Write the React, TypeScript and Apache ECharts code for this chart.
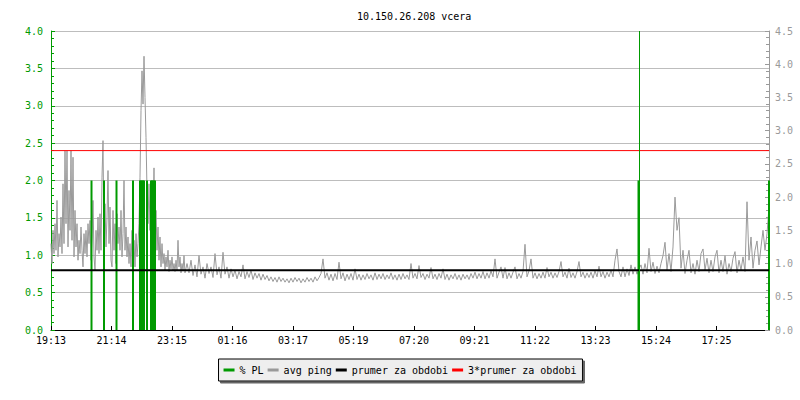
import React, { useEffect, useRef } from "react";
import * as echarts from "echarts";

const TITLE = "10.150.26.208 vcera";
const X_END = 1436;
const TICK_INTERVAL = 121;
const TICK_LABELS = ["19:13", "21:14", "23:15", "01:16", "03:17", "05:19", "07:20", "09:21", "11:22", "13:23", "15:24", "17:25"];

// avg ping (right axis): early busy period sampled every 2 minutes (minutes 0..268)
const EARLY_STEP = 2;
const PING_EARLY = [
  1.3, 1.0, 1.5, 1.15, 1.6, 1.2, 1.95, 1.1, 1.45, 1.25,
  1.7, 1.15, 2.2, 1.3, 2.7, 1.6, 2.7, 1.25, 2.1, 1.5,
  2.7, 1.35, 2.6, 1.1, 1.8, 1.25, 1.6, 1.05, 1.35, 1.15,
  1.55, 1.2, 0.95, 1.45, 1.15, 1.5, 1.1, 1.6, 1.3, 1.65,
  1.05, 1.4, 1.95, 1.1, 0.9, 1.5, 1.2, 1.7, 1.15, 1.75,
  1.2, 2.3, 2.85, 1.3, 1.9, 1.25, 1.7, 2.4, 1.3, 1.85,
  1.05, 0.95, 1.8, 1.2, 1.6, 1.0, 1.75, 1.3, 1.55, 1.2,
  1.8, 1.1, 1.45, 2.25, 1.2, 1.55, 1.1, 1.4, 1.0, 1.3,
  0.95, 1.5, 1.05, 1.35, 0.95, 1.45, 1.1, 1.3, 1.6, 2.3,
  3.3, 3.9, 3.4, 4.12, 3.5, 2.9, 2.1, 1.6, 2.2, 1.5,
  2.05, 1.35, 1.7, 2.44, 1.3, 1.8, 1.2, 1.55, 1.05, 1.4,
  0.95, 1.3, 1.0, 1.15, 0.9, 1.1, 0.95, 1.2, 0.88, 1.05,
  0.92, 1.1, 0.9, 1.0, 0.88, 1.05, 0.9, 1.35, 0.95, 1.1,
  0.86, 1.0, 0.9, 1.12, 0.86,
];

// avg ping (right axis): rest of the day sampled every 4 minutes (minutes 272..1436)
const LATE_START = 272;
const LATE_STEP = 4;
const PING_LATE = [
  1.0, 0.86, 1.05, 0.82, 0.98, 0.8, 1.12, 0.84, 0.95, 0.78,
  1.0, 0.85, 0.95, 0.79, 1.15, 0.83, 0.95, 0.78, 1.17, 0.84,
  0.95, 0.78, 0.92, 0.8, 0.9, 0.77, 0.88, 0.8, 0.98, 0.77,
  0.88, 0.79, 0.9, 0.76, 0.86, 0.78, 0.85, 0.75, 0.84, 0.76,
  0.82, 0.74, 0.8, 0.73, 0.79, 0.72, 0.8, 0.73, 0.78, 0.72,
  0.77, 0.71, 0.78, 0.72, 0.79, 0.73, 0.78, 0.71, 0.77, 0.72,
  0.79, 0.73, 0.78, 0.72, 0.8, 0.74, 0.79, 0.85, 1.07, 0.78,
  0.86, 0.75, 0.84, 0.74, 0.85, 0.76, 1.02, 0.77, 0.86, 0.74,
  0.84, 0.76, 0.85, 0.75, 0.92, 0.76, 0.84, 0.75, 0.83, 0.76,
  0.85, 0.77, 0.83, 0.75, 0.86, 0.76, 0.84, 0.77, 0.85, 0.76,
  0.83, 0.77, 0.86, 0.76, 0.83, 0.75, 0.84, 0.76, 0.85, 0.77,
  0.83, 0.76, 1.0, 0.78, 0.85, 0.77, 0.97, 0.79, 0.85, 0.76,
  0.84, 0.78, 0.94, 0.77, 0.84, 0.76, 0.85, 0.78, 0.92, 0.76,
  0.84, 0.75, 0.83, 0.77, 0.85, 0.76, 0.83, 0.75, 0.84, 0.77,
  0.83, 0.76, 0.85, 0.78, 0.87, 0.77, 0.85, 0.78, 0.88, 0.77,
  0.86, 0.78, 0.89, 0.8, 1.07, 0.78, 0.87, 0.95, 0.78, 0.94,
  0.77, 0.86, 0.78, 0.87, 0.95, 0.77, 0.85, 0.78, 0.88, 1.29,
  0.8, 0.89, 1.07, 0.78, 0.86, 0.77, 0.85, 0.78, 0.87, 0.78,
  0.94, 0.8, 0.87, 0.78, 0.86, 0.79, 0.88, 1.03, 0.8, 0.87,
  0.78, 0.93, 0.79, 0.86, 0.78, 0.88, 1.03, 0.8, 0.87, 0.78,
  0.86, 0.79, 0.87, 0.78, 0.89, 0.8, 0.96, 0.8, 0.88, 0.78,
  0.87, 0.8, 0.9, 0.8, 1.05, 1.22, 0.88, 0.8, 0.95, 0.8,
  0.92, 0.82, 0.98, 0.84, 0.95, 0.84, 0.92, 0.98, 0.84, 1.0,
  0.86, 1.23, 0.88, 1.02, 0.85, 0.96, 0.86, 1.0, 1.12, 1.32,
  0.9, 1.15, 0.88, 1.25, 2.0, 1.5, 1.69, 0.93, 1.2, 0.85,
  1.05, 1.2, 0.86, 1.0, 0.84, 1.05, 0.88, 1.15, 1.22, 0.9,
  1.08, 0.86, 1.05, 0.88, 1.1, 1.2, 0.86, 1.05, 0.88, 1.12,
  0.84, 1.0, 0.88, 1.08, 1.18, 0.86, 1.05, 0.9, 1.1, 0.88,
  1.93, 1.05, 1.4, 0.93, 1.2, 1.34, 0.98, 1.25, 1.5, 1.2,
  1.45, 1.85,
];

// % packet loss (left axis)
const PL_TIMES = [81, 106, 131, 164, 178, 180, 182, 184, 186, 192, 200, 202, 204, 206, 208, 1175, 1436];
const PL_VALUES = [2, 2, 2, 2, 2, 2, 2, 2, 2, 2, 2, 2, 2, 2, 2, 2, 2];
const PL_SPIKE_TIMES = [1177];

const PRUMER = 0.9;
const PRUMER3 = 2.7;

const FONT = "DejaVu Sans Mono";
const GREEN = "#009a00";
const GRAY = "#9a9a9a";

export default function App() {
  const ref = useRef<HTMLDivElement>(null);
  useEffect(() => {
    const chart = echarts.init(ref.current!, null, { renderer: "svg" });
    const pingData = [
      ...PING_EARLY.map((v, i) => [i * EARLY_STEP, v]),
      ...PING_LATE.map((v, i) => [LATE_START + i * LATE_STEP, v]),
    ];
    const option: any = {
      animation: false,
      backgroundColor: "#fff",
      textStyle: { fontFamily: FONT },
      title: {
        text: TITLE,
        left: 352,
        top: 6,
        textStyle: { fontFamily: FONT, fontSize: 10, fontWeight: "normal", color: "#000" },
      },
      grid: { left: 51, right: 31, top: 31, bottom: 70 },
      legend: {
        left: "center",
        top: 359,
        data: ["% PL", "avg ping", "prumer za obdobi", "3*prumer za obdobi"],
        icon: "rect",
        itemWidth: 11,
        itemHeight: 3,
        itemGap: 4,
        padding: [6, 6, 6, 5],
        backgroundColor: "#eeeeee",
        borderColor: "#000",
        borderWidth: 1,
        shadowColor: "#666",
        shadowOffsetX: 2,
        shadowOffsetY: 2,
        shadowBlur: 0,
        selectedMode: false,
        textStyle: { fontFamily: FONT, fontSize: 10, color: "#000" },
      },
      xAxis: {
        type: "value",
        min: 0,
        max: X_END,
        interval: TICK_INTERVAL,
        axisLine: { show: true, lineStyle: { color: "#000", width: 1 } },
        axisTick: { show: true, inside: true, length: 4, lineStyle: { color: "#000" } },
        axisLabel: {
          color: "#000",
          fontFamily: FONT,
          fontSize: 10,
          margin: 5,
          showMaxLabel: false,
          formatter: (v: number) => {
            const k = Math.round(v / TICK_INTERVAL);
            return Math.abs(k * TICK_INTERVAL - v) < 0.01 && k < TICK_LABELS.length ? TICK_LABELS[k] : "";
          },
        },
        splitLine: { show: false },
      },
      yAxis: [
        {
          type: "value",
          position: "left",
          min: 0,
          max: 4,
          interval: 0.5,
          axisLine: { show: true, lineStyle: { color: GREEN, width: 1 } },
          axisTick: { show: true, inside: true, length: 4, lineStyle: { color: GREEN } },
          minorTick: { show: true, splitNumber: 5, length: 3, lineStyle: { color: GREEN } },
          axisLabel: {
            color: GREEN,
            fontFamily: FONT,
            fontSize: 10,
            margin: 8,
            formatter: (v: number) => v.toFixed(1),
          },
          splitLine: { show: true, lineStyle: { color: "#bdbdbd", width: 1 } },
        },
        {
          type: "value",
          position: "right",
          min: 0,
          max: 4.5,
          interval: 0.5,
          axisLine: { show: true, lineStyle: { color: GRAY, width: 1 } },
          axisTick: { show: true, inside: true, length: 4, lineStyle: { color: GRAY } },
          minorTick: { show: true, splitNumber: 5, length: 3, lineStyle: { color: GRAY } },
          axisLabel: {
            color: GRAY,
            fontFamily: FONT,
            fontSize: 10,
            margin: 6,
            formatter: (v: number) => v.toFixed(1),
          },
          splitLine: { show: false },
        },
      ],
      series: [
        {
          name: "avg ping",
          type: "line",
          yAxisIndex: 1,
          data: pingData,
          symbol: "none",
          showSymbol: false,
          lineStyle: { color: GRAY, width: 1 },
          itemStyle: { color: GRAY },
          z: 2,
        },
        {
          name: "% PL",
          type: "bar",
          yAxisIndex: 0,
          data: PL_TIMES.map((t, i) => [t, PL_VALUES[i]]),
          barWidth: 2,
          itemStyle: { color: GREEN },
          z: 3,
          markLine: {
            silent: true,
            symbol: ["none", "none"],
            label: { show: false },
            lineStyle: { color: GREEN, width: 1, type: "solid" },
            data: PL_SPIKE_TIMES.map((t) => ({ xAxis: t })),
          },
        },
        {
          name: "prumer za obdobi",
          type: "line",
          yAxisIndex: 1,
          data: [[0, PRUMER], [X_END, PRUMER]],
          symbol: "none",
          lineStyle: { color: "#000", width: 2 },
          itemStyle: { color: "#000" },
          z: 4,
        },
        {
          name: "3*prumer za obdobi",
          type: "line",
          yAxisIndex: 1,
          data: [[0, PRUMER3], [X_END, PRUMER3]],
          symbol: "none",
          lineStyle: { color: "#f00", width: 1 },
          itemStyle: { color: "#f00" },
          z: 4,
        },
      ],
    };
    chart.setOption(option);
    return () => chart.dispose();
  }, []);
  return <div ref={ref} style={{ position: "fixed", left: 0, top: 0, width: 800, height: 400 }} />;
}
